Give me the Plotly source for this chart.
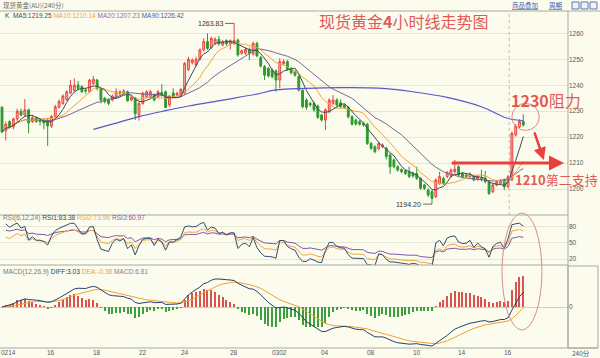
import plotly.graph_objects as go
import numpy as np
import pandas as pd

# ---------------- data (4h candles) ----------------
opens = [1231.5, 1222.5, 1226, 1224, 1227, 1230, 1228.5, 1230.5, 1226, 1227.5,
         1226.5, 1226.5, 1226.5, 1224.3, 1228, 1231.5, 1233, 1234.5, 1237, 1238,
         1240.1, 1239.5, 1238.2, 1237.5, 1240.7, 1242, 1238.8, 1235, 1234.5, 1234.3,
         1235.5, 1237.5, 1236.9, 1237.5, 1234.3, 1235, 1228.5, 1233, 1235.6, 1235.6,
         1236.2, 1235.6, 1237.2, 1237.5, 1232.4, 1237, 1236.2, 1236.2, 1237, 1246,
         1248.7, 1247.8, 1250, 1253.6, 1256.8, 1254.5, 1256.1, 1257.7, 1255.5, 1257.2,
         1255.9, 1256.1, 1257.4, 1252.3, 1252.3, 1253.8, 1252, 1256.1, 1250.7, 1247.2,
         1246.5, 1245.9, 1245.6, 1242, 1248.4, 1249.1, 1246.5, 1245.2, 1243.3, 1238,
         1234.3, 1233, 1233, 1232, 1228.5, 1226.6, 1229.8, 1233, 1234.3, 1233.3,
         1232.4, 1231.5, 1227.9, 1226.6, 1226, 1225.3, 1225, 1217.6, 1216.3, 1215.5,
         1216.4, 1215.7, 1213.1, 1211.2, 1208.6, 1207.5, 1207, 1206.7, 1206.2, 1206,
         1204.1, 1201.6, 1199.6, 1199, 1197.1, 1202.2, 1204.1, 1204.8, 1205, 1206.7,
         1208.6, 1206, 1205.4, 1204.8, 1205, 1203.8, 1204.1, 1204.1, 1202.8, 1199,
         1201.6, 1202.2, 1203.5, 1200.9, 1203.5, 1220.8, 1224, 1226]
highs = [1232, 1226, 1226.5, 1227.5, 1231, 1231, 1234.7, 1231, 1228.5, 1228,
         1227, 1227, 1227, 1228.5, 1232.5, 1234.5, 1236.5, 1238, 1242, 1242.7,
         1241.6, 1240, 1239, 1242.5, 1243.6, 1242.5, 1239, 1235.5, 1235, 1236.5,
         1238.8, 1238, 1238.5, 1238, 1236, 1235.5, 1233.7, 1237.5, 1238, 1238.2,
         1236.9, 1238.2, 1240.4, 1238, 1236.2, 1238.8, 1237.5, 1239, 1249, 1251,
         1250.4, 1251, 1254.2, 1258.1, 1260, 1258.7, 1258.5, 1259, 1257.4, 1257.7,
         1257.7, 1263.83, 1258, 1253.8, 1254.5, 1254.5, 1256.8, 1256.8, 1251.3, 1247.8,
         1247, 1246.5, 1246, 1250.4, 1250, 1249.7, 1247, 1245.9, 1243.9, 1238.5,
         1235, 1233.7, 1233.7, 1232.6, 1229, 1231.1, 1235, 1236.2, 1235, 1234.6,
         1233, 1232, 1228.5, 1227.2, 1226.6, 1226, 1225.5, 1218.2, 1216.9, 1218.2,
         1217.6, 1216.3, 1213.8, 1211.8, 1209.2, 1208, 1207.6, 1208.6, 1206.7, 1208.6,
         1204.6, 1202, 1200.2, 1199.6, 1204.1, 1206.7, 1204.8, 1206.9, 1207.9, 1211.2,
         1209.2, 1206.6, 1206, 1206.4, 1205.6, 1205.4, 1207.5, 1207, 1203.4, 1202.2,
         1203.4, 1203.8, 1204.1, 1205.4, 1222.1, 1225, 1226.9, 1228.8]
lows = [1221.5, 1218.7, 1223.5, 1223, 1226, 1228, 1228, 1221.5, 1225.5, 1225.5,
        1224.5, 1223, 1216.6, 1223.5, 1227.5, 1231, 1232.5, 1234, 1236.5, 1237.5,
        1238, 1237, 1236.8, 1237, 1240, 1238, 1233, 1233, 1232.3, 1233.8,
        1235, 1236, 1236.5, 1233.7, 1233.8, 1226.6, 1226.4, 1232.5, 1235, 1235,
        1233.7, 1235, 1235.6, 1231.1, 1231.7, 1235, 1235.6, 1235.6, 1236.5, 1245.5,
        1248, 1247.3, 1249.5, 1253, 1253.6, 1254, 1255.5, 1255.3, 1255, 1255.3,
        1253.8, 1255.5, 1251, 1251.7, 1251.7, 1249.7, 1251.5, 1250.8, 1246.8, 1242,
        1243, 1242.6, 1237.5, 1238.8, 1247.8, 1245.6, 1244.2, 1243.3, 1237.5, 1231.1,
        1230.5, 1231.7, 1229.8, 1227, 1226, 1222.7, 1229.2, 1232.4, 1231.7, 1231.1,
        1230.9, 1227.2, 1224.5, 1224.5, 1224.4, 1224, 1217, 1215, 1213.8, 1215,
        1215.8, 1211.4, 1205.8, 1208, 1206.7, 1206, 1205.4, 1204.2, 1204.4, 1203.5,
        1199.8, 1199.6, 1197, 1194.2, 1196.5, 1201.6, 1201.6, 1204.2, 1204.4, 1206,
        1204.8, 1204.2, 1204.3, 1204.2, 1203, 1203.2, 1203, 1202.2, 1197.7, 1198.4,
        1201, 1201.6, 1199.6, 1200.3, 1203, 1220.2, 1223.5, 1224]
closes = [1222, 1225, 1224, 1227, 1230, 1228.5, 1230.5, 1225.5, 1227.5, 1226,
          1226, 1225.5, 1224.3, 1228, 1231.7, 1233.7, 1235.8, 1237.5, 1240, 1240,
          1238.8, 1237.5, 1237.8, 1242, 1242.3, 1238.8, 1234.3, 1233.7, 1233, 1235.8,
          1237.5, 1236.9, 1237.8, 1234, 1235.3, 1229, 1233, 1236.9, 1237.5, 1237.5,
          1234.3, 1237.5, 1236.2, 1231.5, 1235.8, 1235.6, 1236.9, 1238.4, 1248.4, 1250,
          1249.7, 1250, 1253.6, 1256.8, 1254.2, 1258.1, 1257.7, 1255.9, 1256.8, 1255.9,
          1257.2, 1257.2, 1251.7, 1253.3, 1253.8, 1252.3, 1256.1, 1251.3, 1247.4, 1243.9,
          1243.6, 1243.3, 1242, 1249.1, 1249.1, 1246.1, 1244.8, 1243.9, 1238.2, 1231.7,
          1231.5, 1232.4, 1230.5, 1227.6, 1226.6, 1230.5, 1234.3, 1234.3, 1232.4, 1231.7,
          1231.5, 1227.9, 1225, 1225, 1225, 1224.7, 1217.6, 1215.7, 1214.4, 1217.6,
          1217, 1212.5, 1208.6, 1208.6, 1207.3, 1206.7, 1206, 1204.8, 1205, 1204.1,
          1200.3, 1200.3, 1197.7, 1196.4, 1203.5, 1204.8, 1202.2, 1206.3, 1207.3, 1207.6,
          1205.4, 1204.8, 1204.9, 1205.8, 1203.5, 1204.8, 1203.6, 1202.8, 1198.3, 1201.6,
          1202.8, 1203.2, 1200.9, 1204.8, 1221.5, 1224.3, 1226, 1224.7]

# MA90 (its history lies before the visible window)
ma90_idx = [24, 29, 36, 43, 49, 58, 67, 72, 80, 89, 99, 108, 117, 126, 133, 137]
ma90_val = [1223, 1225, 1227.9, 1230.2, 1232, 1234.3, 1236.6, 1238.2, 1238.8,
            1239.1, 1238.9, 1237.5, 1235.3, 1231.7, 1227.2, 1226.42]

date_ticks = [1.6, 13, 25, 37, 48, 61, 73, 85, 97, 109, 121, 133]
date_labels = ['0214', '16', '18', '22', '24', '28', '0302', '04', '08', '10', '14', '16']
price_ticks = [1200, 1210, 1220, 1230, 1240, 1250, 1260]
rsi_ticks = [20, 50, 80]

ma_names = ['MA5', 'MA10', 'MA20', 'MA90']
ma_vals = [1219.25, 1210.14, 1207.23, 1226.42]
rsi_names = ['RSI1', 'RSI2', 'RSI3']
rsi_vals = [83.38, 73.96, 60.97]
macd_names = ['DIFF', 'DEA', 'MACD']
macd_vals = [3.03, -0.38, 6.81]

resistance = 1230
support = 1210
cursor_idx = 133

# ---------------- styles ----------------
BG = '#fcfcee'
GRID = '#e6e6d4'
AXC = '#a8a8a0'
C_MA5, C_MA10, C_MA20, C_MA90 = '#3c4a5c', '#f2a23a', '#7a6496', '#5a55c8'
C_R1, C_R2, C_R3 = '#2f4d6d', '#eea440', '#8356a8'
RED_AN = '#e25a55'
FONT = 'Liberation Sans'
CJK = 'Noto Sans CJK SC'

W_PLOT = 568.0
H_PLOT = 348.0
def px(x):
    return x / W_PLOT
def py(y):
    return (H_PLOT - y) / H_PLOT

n = len(closes)
idx = list(range(n))
s = pd.Series(closes)
ma5 = s.rolling(5, min_periods=1).mean()
ma10 = s.rolling(10, min_periods=1).mean()
ma20 = s.rolling(20, min_periods=1).mean()

def rsi(c, N):
    c = np.asarray(c, float)
    d = np.diff(c)
    up, ab = np.maximum(d, 0), np.abs(d)
    su, sa = up[:N].mean(), ab[:N].mean()   # Wilder-style seed
    out = [None]
    for k in range(len(d)):
        su = (up[k] + (N - 1) * su) / N
        sa = (ab[k] + (N - 1) * sa) / N
        out.append(100 * su / sa if sa > 0 else 50)
    return out

rsi1, rsi2, rsi3 = rsi(closes, 6), rsi(closes, 12), rsi(closes, 24)
ema12 = s.ewm(span=12, adjust=False).mean()
ema26 = s.ewm(span=26, adjust=False).mean()
diff = ema12 - ema26
dea = diff.ewm(span=9, adjust=False).mean()
hist = 2 * (diff - dea)
bar_colors = ['#d9534f' if v >= 0 else '#3f9e3f' for v in hist]

fig = go.Figure()
fig.add_trace(go.Candlestick(
    x=idx, open=opens, high=highs, low=lows, close=closes,
    increasing=dict(line=dict(color='#e8453f', width=1), fillcolor='#f6b0aa'),
    decreasing=dict(line=dict(color='#2c9a2c', width=1), fillcolor='#2c9a2c'),
    whiskerwidth=0, hoverinfo='skip', yaxis='y'))
for ser, col in [(ma20, C_MA20), (ma10, C_MA10), (ma5, C_MA5)]:
    fig.add_trace(go.Scatter(x=idx, y=ser, mode='lines', line=dict(color=col, width=1), yaxis='y'))
fig.add_trace(go.Scatter(x=ma90_idx, y=ma90_val, mode='lines',
                         line=dict(color=C_MA90, width=1.2, shape='spline'), yaxis='y'))

for ser, col in [(rsi3, C_R3), (rsi2, C_R2), (rsi1, C_R1)]:
    fig.add_trace(go.Scatter(x=idx, y=ser, mode='lines', line=dict(color=col, width=1), yaxis='y2'))

fig.add_trace(go.Bar(x=idx, y=hist, marker=dict(color=bar_colors, line=dict(width=0)),
                     width=0.28, yaxis='y3'))
fig.add_trace(go.Scatter(x=idx, y=dea, mode='lines', line=dict(color='#f0a030', width=1), yaxis='y3'))
fig.add_trace(go.Scatter(x=idx, y=diff, mode='lines', line=dict(color='#24406a', width=1), yaxis='y3'))

A = -float(diff.min()) * 41 / 39.0
macd_range = [-A, A * 42 / 41]

price_lo = 1190
price_hi = 1190 + (215 - 11) / 2.595
rsi_lo = 50 - (265 - 242.85) / 0.5383
rsi_hi = 50 + (242.85 - 215) / 0.5383

tickfont = dict(family=FONT, size=6.5, color='#555')
fig.update_layout(
    width=600, height=358, margin=dict(l=0, r=32, t=0, b=10),
    paper_bgcolor=BG, plot_bgcolor=BG, showlegend=False, bargap=0,
    xaxis=dict(range=[-0.526, 148.75], showticklabels=False, showgrid=False, zeroline=False,
               showline=False, ticks='', anchor='y3', rangeslider=dict(visible=False), fixedrange=True),
    yaxis=dict(domain=[py(215), py(11)], range=[price_lo, price_hi], side='right',
               tickmode='array', tickvals=price_ticks, tickfont=tickfont, gridcolor=GRID,
               gridwidth=1, zeroline=False, ticks='', fixedrange=True),
    yaxis2=dict(domain=[py(265), py(215)], range=[rsi_lo, rsi_hi], side='right', anchor='x',
                tickmode='array', tickvals=rsi_ticks, tickfont=tickfont, gridcolor=GRID,
                zeroline=False, ticks='', fixedrange=True),
    yaxis3=dict(domain=[0, py(265)], range=macd_range, side='right', anchor='x',
                tickmode='array', tickvals=[0], tickfont=tickfont, showgrid=False,
                zeroline=True, zerolinecolor='#cfcfc0', zerolinewidth=1,
                ticks='', fixedrange=True),
)

shapes = []
def hline(y, x0=0, x1=1, color=AXC, width=1):
    shapes.append(dict(type='line', xref='paper', yref='paper', x0=x0, x1=x1, y0=y, y1=y,
                       line=dict(color=color, width=width)))
hline(py(11), 0, px(600))
hline(py(215))
hline(py(265))
hline(py(348), 0, px(598))
shapes.append(dict(type='line', xref='paper', yref='paper', x0=1, x1=1, y0=0, y1=py(11),
                   line=dict(color=AXC, width=1)))
shapes.append(dict(type='rect', xref='paper', yref='paper', x0=1, x1=px(598), y0=0, y1=py(266),
                   line=dict(color=AXC, width=1)))
# cursor / day separator
shapes.append(dict(type='line', xref='x', yref='paper', x0=cursor_idx + 0.3, x1=cursor_idx + 0.3,
                   y0=py(215), y1=py(14), line=dict(color='#b8b8a8', width=1, dash='dot')))
# header icons
for x0 in [572, 581, 590]:
    shapes.append(dict(type='rect', xref='paper', yref='paper', x0=px(x0), x1=px(x0 + 7),
                       y0=py(9), y1=py(2), line=dict(color='#5a78b0', width=1), fillcolor='#eef2fa'))
# circle around resistance test
shapes.append(dict(type='circle', xref='x', yref='y', x0=134.0, x1=141.2, y0=1222.6, y1=1233.0,
                   line=dict(color='#e08a88', width=1)))
# big ellipse over RSI / MACD
shapes.append(dict(type='circle', xref='x', yref='paper', x0=131.4, x1=141.9, y0=py(330), y1=py(213),
                   line=dict(color='#dc8c8a', width=1)))

ann = []
def txt(x, y, text, size=7, color='#555', family=FONT, xanchor='left'):
    ann.append(dict(x=px(x), y=py(y), xref='paper', yref='paper', text=text, showarrow=False,
                    xanchor=xanchor, yanchor='middle', font=dict(family=family, size=size, color=color)))

txt(1, 5, '现货黄金(AU)(240分)', size=6.5, color='#666', family=CJK)
txt(510, 5, '<u>商品叠加</u>', size=6.5, color='#3a5fa8', family=CJK)
txt(547, 5, '<u>周期</u>', size=6.5, color='#3a5fa8', family=CJK)

cols_ma = [C_MA5, '#f2a23a', '#9a62a6', '#5252b8']
head = 'K  ' + ' '.join(f"<span style='color:{c}'>{nm}:{v:.2f}</span>"
                        for nm, v, c in zip(ma_names, ma_vals, cols_ma))
txt(3, 15, head, size=6.5, color='#444')
head_r = 'RSI(6,12,24) ' + ' '.join(f"<span style='color:{c}'>{nm}:{v:.2f}</span>"
                                    for nm, v, c in zip(rsi_names, rsi_vals, [C_R1, C_R2, '#8a5aa8']))
txt(1, 218, head_r, size=6.6, color='#777')
head_m = 'MACD(12,26,9) ' + ' '.join(f"<span style='color:{c}'>{nm}:{v:.2f}</span>"
                                     for nm, v, c in zip(macd_names, macd_vals, ['#24406a', '#f0a030', '#8a7a9a']))
txt(1, 272, head_m, size=6.6, color='#777')
txt(570, 353, '240分', size=6.5, color='#555', family=CJK)

# date labels along the bottom
for tv, tl in zip(date_ticks, date_labels):
    ann.append(dict(x=tv, y=py(352.5), xref='x', yref='paper', text=tl, showarrow=False,
                    xanchor='center', yanchor='middle', font=dict(family=FONT, size=6.5, color='#555')))

txt(317, 21, '现货黄金<b>4</b>小时线走势图', size=16, color=RED_AN, family=CJK)
txt(509, 100, f'<b>{resistance}</b>阻力', size=16, color=RED_AN, family=CJK)
txt(513, 180, f'<b>{support}</b>第二支持', size=13, color=RED_AN, family=CJK)

hi_i = int(np.argmax(highs)); lo_i = int(np.argmin(lows))
for i_, v_ in [(hi_i, highs[hi_i]), (lo_i, lows[lo_i])]:
    ann.append(dict(x=i_, y=v_, xref='x', yref='y', text=f'{v_:.2f}', showarrow=True,
                    arrowhead=0, arrowwidth=0.8, arrowcolor='#444', ax=-9, ay=0,
                    xanchor='right', font=dict(family=FONT, size=7, color='#333')))

# red arrows
ann.append(dict(x=147.7, y=support, ax=117.8, ay=support, xref='x', yref='y', axref='x', ayref='y',
                text='', showarrow=True, arrowhead=2, arrowsize=1, arrowwidth=3, arrowcolor='#e8403a'))
ann.append(dict(x=142.4, y=1211.2, ax=139.8, ay=1222.4, xref='x', yref='y', axref='x', ayref='y',
                text='', showarrow=True, arrowhead=2, arrowsize=1, arrowwidth=2.5, arrowcolor='#e8403a'))

fig.update_layout(shapes=shapes, annotations=ann)
fig.write_html('out.html', config={'displayModeBar': False},
               post_script="document.body.style.margin='0px';document.body.style.overflow='hidden';")
